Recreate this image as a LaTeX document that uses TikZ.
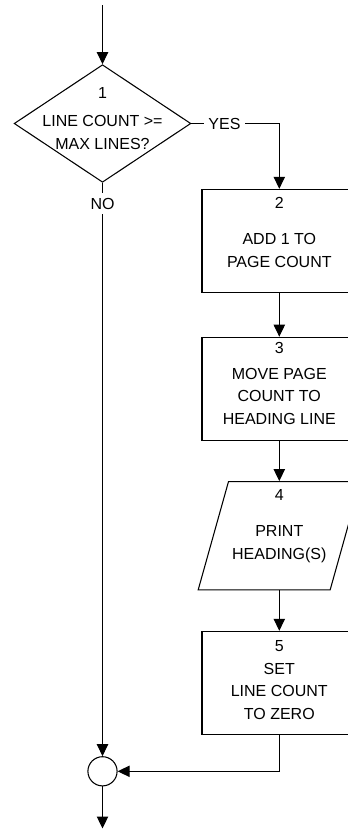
\documentclass[tikz,border=0pt]{standalone}
\usepackage{fontspec}
\setmainfont{Liberation Sans}
\usetikzlibrary{positioning}
\usetikzlibrary{shapes.geometric}
\usetikzlibrary{arrows.meta}

\begin{document}
\begin{tikzpicture}[x=0.75pt, y=-0.75pt, line width=0.8pt,
    font=\fontsize{12}{16.9}\selectfont,
    >={Triangle[length=9pt, width=8.5pt]},
    caja/.style={draw, rectangle, minimum width=116pt, minimum height=77.2pt, inner sep=0pt},
    rombo/.style={draw, diamond, minimum width=132.5pt, minimum height=88.2pt, inner sep=0pt},
    datos/.style={draw, trapezium, trapezium left angle=73.4, trapezium right angle=106.6,
        trapezium stretches=true, minimum width=121.7pt, minimum height=81.2pt, inner sep=2pt},
    union/.style={draw, circle, minimum size=21.9pt, inner sep=0pt},
    texto/.style={align=center}]
            \useasboundingbox (0,0) rectangle (348,829);
            \clip (0,0) rectangle (348,829);

            % Nodos
            \coordinate (top) at (102.5,5);
            \node[rombo, label={[yshift=22.6pt]center:1},
                label={[texto, yshift=-6.75pt]center:LINE COUNT >=\\MAX LINES?}] (cond) at (102.5,123.5) {};
            \node (yes) at (224.5,123.5) {YES};
            \node (no) at (102.5,203.5) {NO};
            \node[caja, label={[yshift=28.1pt]center:2},
                label={[texto, yshift=-7.1pt]center:ADD 1 TO\\PAGE COUNT}] (add) at (279.3,240.8) {};
            \node[caja, label={[yshift=30.3pt]center:3},
                label={[texto, yshift=-5.8pt]center:MOVE PAGE\\COUNT TO\\HEADING LINE}] (move) at (279.3,388.7) {};
            \node[datos, label={[yshift=30.8pt]center:4},
                label={[texto, yshift=-6.2pt]center:PRINT\\HEADING(S)}] (print) at (279.3,535.8) {};
            \node[caja, label={[yshift=27.8pt]center:5},
                label={[texto, yshift=-6.5pt]center:SET\\LINE COUNT\\TO ZERO}] (reset) at (279.3,682.8) {};
            \node[union] (join) at (102.5,771.3) {};
            \coordinate (fin) at (102.5,828.5);

            % Flechas
            \draw[->] (top) -- (cond);
            \draw (cond) -- (yes);
            \draw[->] (yes) -| (add);
            \draw (cond) -- (no);
            \draw[->] (no) -- (join);
            \draw[->] (add) -- (move);
            \draw[->] (move) -- (print);
            \draw[->] (print) -- (reset);
            \draw[->] (reset) |- (join);
            \draw[->] (join) -- (fin);
          \end{tikzpicture}
\end{document}
